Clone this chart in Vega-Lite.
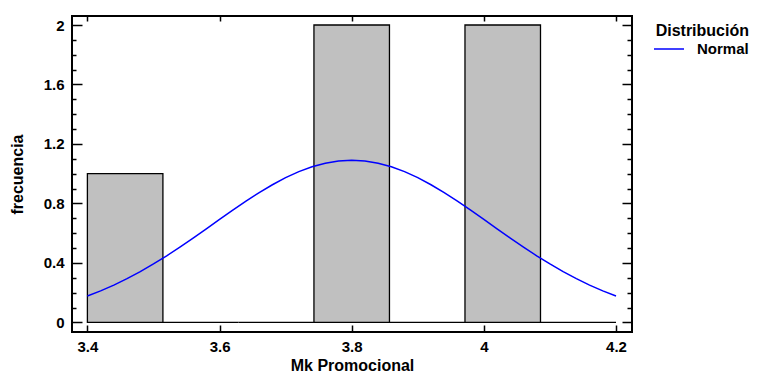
{
  "$schema": "https://vega.github.io/schema/vega-lite/v6.json",
  "width": 560,
  "height": 316,
  "autosize": "none",
  "padding": {"left": 72, "top": 16, "right": 139, "bottom": 44},
  "background": "white",
  "config": {
    "view": {"stroke": "black", "strokeWidth": 2},
    "font": "Liberation Sans",
    "axis": {
      "domain": false,
      "grid": false,
      "tickColor": "black",
      "tickWidth": 1.5,
      "labelColor": "black",
      "labelFontSize": 15,
      "labelFontWeight": "bold",
      "labelFont": "Liberation Sans",
      "titleColor": "black",
      "titleFontSize": 16,
      "titleFontWeight": "bold",
      "titleFont": "Liberation Sans",
      "labelFlush": false,
      "labelOverlap": false
    }
  },
  "datasets": {
    "bins": [
      {"start": 3.4, "end": 3.514286, "count": 1},
      {"start": 3.514286, "end": 3.628571, "count": 0},
      {"start": 3.628571, "end": 3.742857, "count": 0},
      {"start": 3.742857, "end": 3.857143, "count": 2},
      {"start": 3.857143, "end": 3.971429, "count": 0},
      {"start": 3.971429, "end": 4.085714, "count": 2},
      {"start": 4.085714, "end": 4.2, "count": 0}
    ],
    "curve": [
      {"x": 3.40, "y": 0.1776}, {"x": 3.42, "y": 0.2120}, {"x": 3.44, "y": 0.2508}, {"x": 3.46, "y": 0.2939},
      {"x": 3.48, "y": 0.3413}, {"x": 3.50, "y": 0.3929}, {"x": 3.52, "y": 0.4481}, {"x": 3.54, "y": 0.5065},
      {"x": 3.56, "y": 0.5673}, {"x": 3.58, "y": 0.6296}, {"x": 3.60, "y": 0.6926}, {"x": 3.62, "y": 0.7549},
      {"x": 3.64, "y": 0.8154}, {"x": 3.66, "y": 0.8728}, {"x": 3.68, "y": 0.9258}, {"x": 3.70, "y": 0.9732},
      {"x": 3.72, "y": 1.0137}, {"x": 3.74, "y": 1.0464}, {"x": 3.76, "y": 1.0704}, {"x": 3.78, "y": 1.0851},
      {"x": 3.80, "y": 1.0900},
      {"x": 3.82, "y": 1.0851}, {"x": 3.84, "y": 1.0704}, {"x": 3.86, "y": 1.0464}, {"x": 3.88, "y": 1.0137},
      {"x": 3.90, "y": 0.9732}, {"x": 3.92, "y": 0.9258}, {"x": 3.94, "y": 0.8728}, {"x": 3.96, "y": 0.8154},
      {"x": 3.98, "y": 0.7549}, {"x": 4.00, "y": 0.6926}, {"x": 4.02, "y": 0.6296}, {"x": 4.04, "y": 0.5673},
      {"x": 4.06, "y": 0.5065}, {"x": 4.08, "y": 0.4481}, {"x": 4.10, "y": 0.3929}, {"x": 4.12, "y": 0.3413},
      {"x": 4.14, "y": 0.2939}, {"x": 4.16, "y": 0.2508}, {"x": 4.18, "y": 0.2120}, {"x": 4.20, "y": 0.1776}
    ]
  },
  "layer": [
    {
      "data": {"name": "bins"},
      "mark": {"type": "rect", "fill": "#c0c0c0", "stroke": "black", "strokeWidth": 1.3},
      "encoding": {
        "x": {
          "field": "start",
          "type": "quantitative",
          "scale": {"domain": [3.3767, 4.2242], "nice": false, "zero": false},
          "axis": {
            "orient": "bottom",
            "values": [3.4, 3.6, 3.8, 4, 4.2],
            "format": "~g",
            "tickSize": -7,
            "labelPadding": 14,
            "title": "Mk Promocional",
            "titlePadding": 3
          }
        },
        "x2": {"field": "end"},
        "y": {
          "field": "count",
          "type": "quantitative",
          "scale": {"domain": [-0.0646, 2.0606], "nice": false, "zero": false},
          "axis": {
            "orient": "left",
            "values": [0, 0.1, 0.2, 0.3, 0.4, 0.5, 0.6, 0.7, 0.8, 0.9, 1, 1.1, 1.2, 1.3, 1.4, 1.5, 1.6, 1.7, 1.8, 1.9, 2],
            "labelExpr": "round(datum.value*10) % 4 == 0 ? format(datum.value, '~g') : ''",
            "tickSize": {"condition": {"test": "round(datum.value*10) % 4 == 0", "value": -10}, "value": -4},
            "labelPadding": 18,
            "title": "frecuencia",
            "titlePadding": 18
          }
        },
        "y2": {"datum": 0}
      }
    },
    {
      "data": {"name": "curve"},
      "mark": {"type": "line", "strokeWidth": 1.5},
      "encoding": {
        "x": {
          "field": "x",
          "type": "quantitative",
          "axis": {
            "orient": "top",
            "values": [3.4, 3.6, 3.8, 4, 4.2],
            "labels": false,
            "tickSize": -5,
            "title": null
          }
        },
        "y": {
          "field": "y",
          "type": "quantitative",
          "axis": {
            "orient": "right",
            "values": [0, 0.1, 0.2, 0.3, 0.4, 0.5, 0.6, 0.7, 0.8, 0.9, 1, 1.1, 1.2, 1.3, 1.4, 1.5, 1.6, 1.7, 1.8, 1.9, 2],
            "labels": false,
            "tickSize": {"condition": {"test": "round(datum.value*10) % 4 == 0", "value": -10}, "value": -5},
            "title": null
          }
        },
        "color": {
          "datum": "Normal",
          "type": "nominal",
          "scale": {"range": ["#0000ff"]},
          "legend": {
            "title": "Distribución",
            "orient": "none",
            "legendX": 581,
            "legendY": 7,
            "symbolType": "stroke",
            "symbolSize": 900,
            "symbolStrokeWidth": 1.5,
            "labelFontSize": 15,
            "labelFontWeight": "bold",
            "labelFont": "Liberation Sans",
            "labelColor": "black",
            "labelOffset": 12,
            "titleFontSize": 16,
            "titleFontWeight": "bold",
            "titleFont": "Liberation Sans",
            "titleColor": "black",
            "titleAnchor": "end",
            "titlePadding": -6
          }
        }
      }
    }
  ],
  "resolve": {"axis": {"x": "independent", "y": "independent"}}
}
